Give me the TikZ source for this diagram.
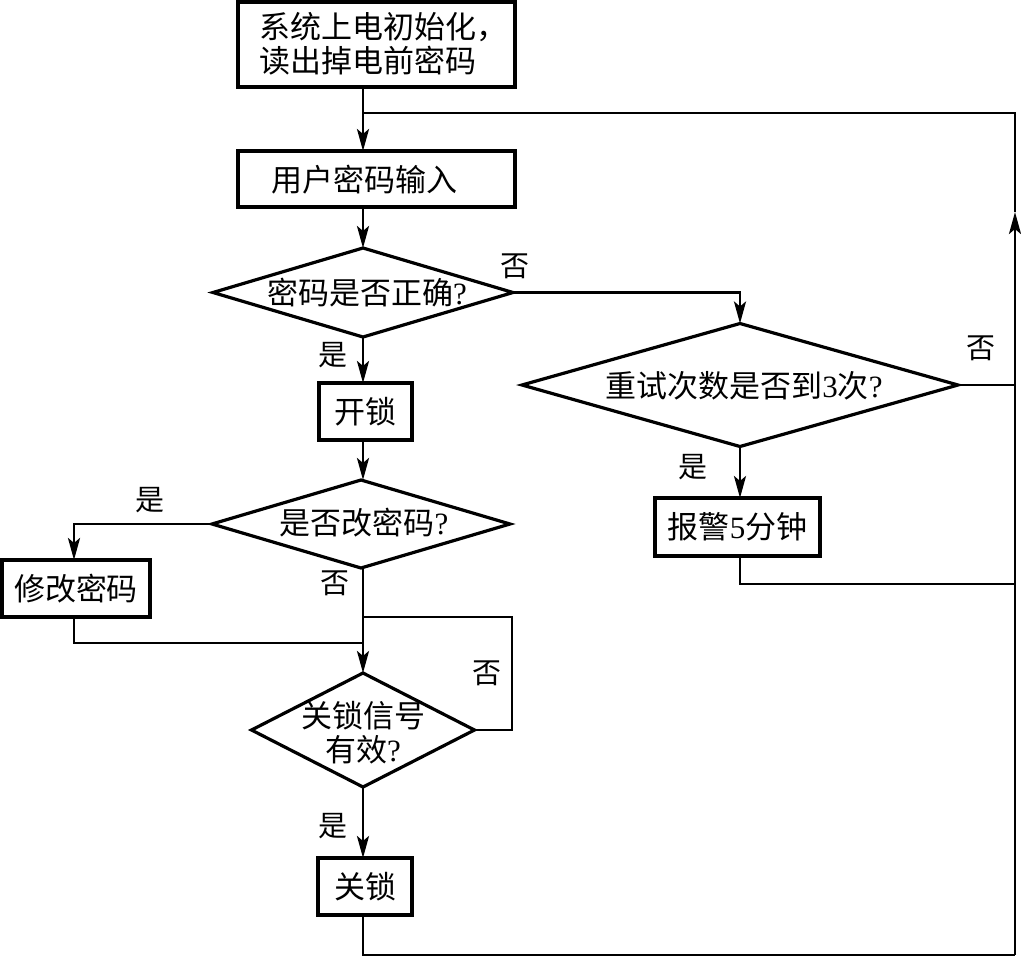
\documentclass[tikz,border=0pt]{standalone}
\usepackage{fontspec}
\setmainfont{Noto Sans CJK SC}
\newfontfamily\lat{Liberation Serif}
\usetikzlibrary{shapes.geometric,arrows.meta}
\begin{document}
\begin{tikzpicture}[x=1pt,y=-1pt,
  box/.style={draw,line width=3.4pt,inner sep=0pt,outer sep=0pt},
  dia/.style={draw,diamond,line width=3.2pt,inner sep=0pt,outer sep=0pt},
  txt/.style={font=\fontsize{31}{34}\selectfont,inner sep=0pt},
  lbl/.style={font=\fontsize{29}{32}\selectfont,inner sep=0pt},
  ln/.style={line width=2.7pt},
  arr/.style={ln,-{Stealth[length=22pt,width=12pt,inset=5pt]}}]
\useasboundingbox (0,0) rectangle (1021,959);

% boxes
\node[box,minimum width=277pt,minimum height=85pt] (b1) at (376.5,44.5) {};
\node[txt,align=left,anchor=west] (t1) at (259,44) {系统上电初始化，\\读出掉电前密码};
\node[box,minimum width=277pt,minimum height=56pt] (b2) at (376.5,179) {};
\node[txt] (t2) at (364,180) {用户密码输入};
\node[box,minimum width=93pt,minimum height=57pt,txt] (k1) at (365.5,411.5) {开锁};
\node[box,minimum width=165pt,minimum height=58pt,txt] (bj) at (737.5,527) {报警{\lat 5}分钟};
\node[box,minimum width=148pt,minimum height=57pt,txt] (xg) at (76,588.5) {修改密码};
\node[box,minimum width=94pt,minimum height=57pt,txt] (gs) at (365,886.5) {关锁};

% diamonds
\node[dia,minimum width=300pt,minimum height=89pt] (d1) at (363,292.5) {};
\node[txt] (td1) at (367,293) {密码是否正确{\lat ?}};
\node[dia,minimum width=436pt,minimum height=123pt] (d2) at (740,385) {};
\node[txt] (td2) at (744,386) {重试次数是否到{\lat 3}次{\lat ?}};
\node[dia,minimum width=298pt,minimum height=88pt] (d3) at (361,524) {};
\node[txt] (td3) at (364,523) {是否改密码{\lat ?}};
\node[dia,minimum width=223pt,minimum height=114pt] (d4) at (363,730) {};
\node[txt,align=center] (td4) at (363,733) {关锁信号\\有效{\lat ?}};

% coordinates
\coordinate (LT) at (363,113);
\coordinate (RT) at (1015,113);
\coordinate (RM) at (1015,212);
\coordinate (RB) at (1015,955);
\coordinate (R2) at (1015,385);
\coordinate (R3) at (1015,584);
\coordinate (J1) at (363,643);
\coordinate (J2) at (363,617);
\coordinate (L4) at (512,617);

% connectors
\draw[arr] (b1.south -| LT) -- (b2.north -| LT);
\draw[arr] (b2.south -| LT) -- (d1.north);
\draw[arr] (d1.east) -| (d2.north);
\draw[arr] (d1.south) -- (k1.north -| d1.south);
\draw[arr] (k1.south -| d1.south) -- (d3.north -| d1.south);
\draw[arr] (d3.west) -| (xg.north -| 74,0);
\draw[ln] (xg.south -| 74,0) |- (J1);
\draw[arr] (d3.south -| d1.south) -- (d4.north);
\draw[ln] (d4.east) -| (L4) -- (J2);
\draw[arr] (d4.south) -- (gs.north -| d4.south);
\draw[ln] (gs.south -| d4.south) |- (RB);
\draw[arr] (d2.south) -- (bj.north -| d2.south);
\draw[ln] (bj.south -| d2.south) |- (R3);
\draw[ln] (d2.east) -- (R2);
\draw[arr] (RB) -- (RM);
\draw[ln] (RM) -- (RT) -- (LT);

% labels
\node[lbl] (n1) at (515,266) {否};
\node[lbl] (y1) at (333,355) {是};
\node[lbl] (n2) at (981,348) {否};
\node[lbl] (y2) at (693,467) {是};
\node[lbl] (y3) at (150,500) {是};
\node[lbl] (n3) at (335,583) {否};
\node[lbl] (n4) at (487,673) {否};
\node[lbl] (y4) at (333,826) {是};
\end{tikzpicture}
\end{document}
